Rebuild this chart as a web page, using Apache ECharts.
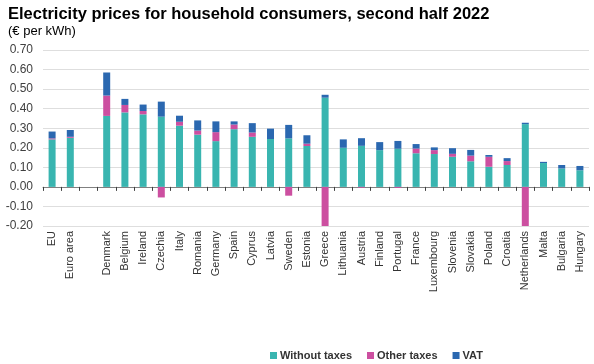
<!DOCTYPE html>
<html><head><meta charset="utf-8">
<script src="https://cdn.jsdelivr.net/npm/echarts@6/dist/echarts.min.js"></script>
<style>html,body{margin:0;padding:0;background:#fff}#c{width:594px;height:364px}</style>
</head><body><div id="c"></div>
<script>
const categories = ['EU','Euro area','','Denmark','Belgium','Ireland','Czechia','Italy','Romania','Germany','Spain','Cyprus','Latvia','Sweden','Estonia','Greece','Lithuania','Austria','Finland','Portugal','France','Luxembourg','Slovenia','Slovakia','Poland','Croatia','Netherlands','Malta','Bulgaria','Hungary'];
const withoutTaxes = [0.243,0.251,null,0.363,0.381,0.371,0.359,0.313,0.267,0.234,0.295,0.256,0.245,0.248,0.209,0.456,0.200,0.210,0.188,0.195,0.172,0.168,0.154,0.131,0.103,0.112,0.321,0.122,0.094,0.085];
const otherTaxes = [0.005,0.005,null,0.104,0.038,0.017,-0.054,0.020,0.021,0.046,0.024,0.022,0.000,-0.045,0.012,-0.200,0.000,-0.004,0.000,-0.005,0.024,0.020,0.015,0.029,0.051,0.020,-0.200,0.000,0.000,0.000];
const vat = [0.035,0.035,null,0.118,0.031,0.033,0.077,0.031,0.052,0.055,0.016,0.048,0.053,0.069,0.043,0.015,0.043,0.039,0.041,0.040,0.023,0.014,0.029,0.029,0.009,0.015,0.007,0.006,0.018,0.022];
const yTicks = [-0.2,-0.1,0,0.1,0.2,0.3,0.4,0.5,0.6,0.7];

const chart = echarts.init(document.getElementById('c'));
const font = 'Liberation Sans, Arial, sans-serif';
chart.setOption({
  animation:false,
  textStyle:{fontFamily:font},
  title:[
    {text:'Electricity prices for household consumers, second half 2022',left:3,top:1,textStyle:{fontSize:16.5,fontWeight:'bold',color:'#000',fontFamily:font}},
    {text:'(€ per kWh)',left:3,top:20,textStyle:{fontSize:13,fontWeight:'normal',color:'#000',fontFamily:font}}
  ],
  legend:{
    left:265, top:345, itemWidth:7, itemHeight:7, itemGap:15, icon:'rect',
    textStyle:{fontSize:11,fontWeight:'bold',color:'#333',fontFamily:font, padding:[0,0,0,-2]},
    data:['Without taxes','Other taxes','VAT']
  },
  grid:{left:43,right:5,top:50,bottom:138,containLabel:false},
  xAxis:[
    {type:'category',data:categories,position:'bottom',
     axisLine:{show:false,onZero:false},axisTick:{show:false},
     axisLabel:{rotate:90,fontSize:11,color:'#333',margin:5,interval:0,fontFamily:font}},
    {type:'category',data:categories,position:'bottom',
     axisLine:{show:true,onZero:true,lineStyle:{color:'#808080',width:1}},
     axisTick:{show:true,length:4,inside:false,lineStyle:{color:'#404040',width:1},interval:0},
     axisLabel:{show:false}}
  ],
  yAxis:{type:'value',min:-0.2,max:0.7,interval:0.1,
    axisLine:{show:false},axisTick:{show:false},
    axisLabel:{fontSize:12,color:'#404040',margin:10,fontFamily:font,formatter:v=>v.toFixed(2)},
    splitLine:{lineStyle:{color:'#dedede',width:1}}},
  series:[
    {name:'Without taxes',type:'bar',stack:'t',data:withoutTaxes,barWidth:7,itemStyle:{color:'#39b5b0'}},
    {name:'Other taxes',type:'bar',stack:'t',data:otherTaxes,barWidth:7,itemStyle:{color:'#cc4fa0'}},
    {name:'VAT',type:'bar',stack:'t',data:vat,barWidth:7,itemStyle:{color:'#2b68b0'}}
  ]
});
</script></body></html>
